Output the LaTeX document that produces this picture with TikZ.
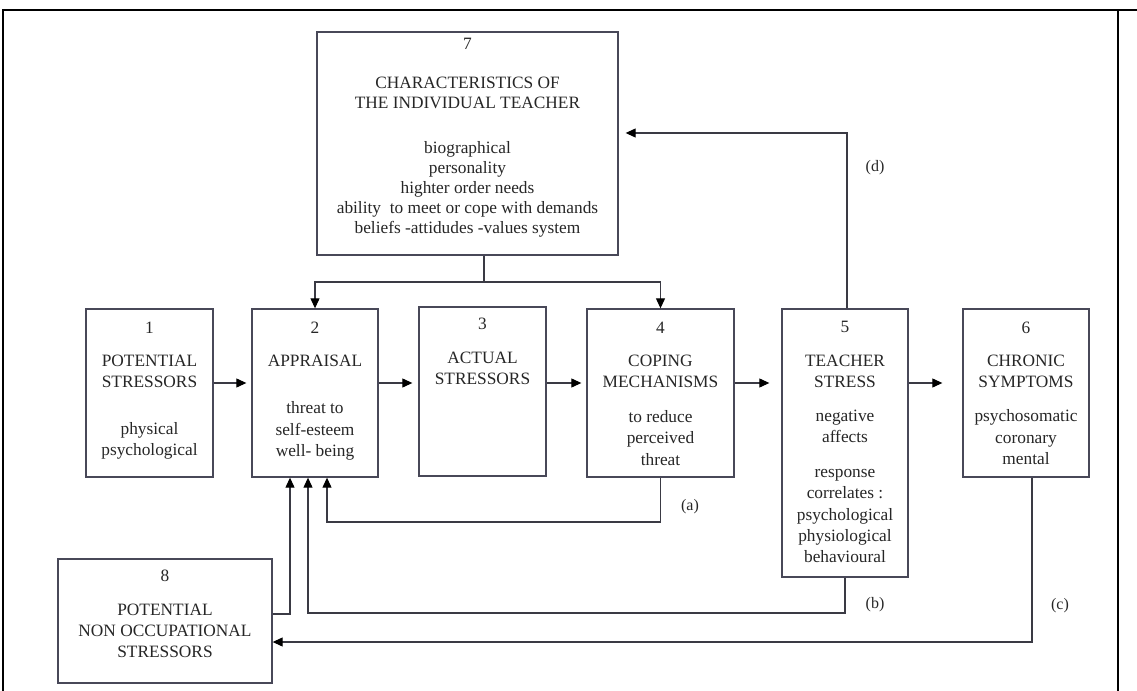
\documentclass[tikz,border=0pt]{standalone}
\usepackage{fontspec}
\setmainfont{Liberation Serif}
\usetikzlibrary{arrows.meta}
\definecolor{boxc}{RGB}{72,72,88}
\definecolor{linec}{RGB}{58,58,68}
\definecolor{txtc}{RGB}{38,38,38}
\begin{document}
\begin{tikzpicture}[x=0.75pt,y=-0.75pt,
  box/.style={draw=boxc, line width=1pt, inner sep=0pt},
  boxtext/.style={anchor=north, align=center, inner sep=0pt, text=txtc,
    font=\fontsize{13}{16}\selectfont},
  conn/.style={draw=linec, line width=0.8pt},
  arr/.style={conn, -{Triangle[length=7.5pt,width=6.75pt,color=black,fill=black]}},
  tag/.style={text=txtc, font=\fontsize{12}{14}\selectfont, inner sep=0pt},
  frame/.style={line width=1.5pt, black}]
\useasboundingbox (0,0) rectangle (1137,691);

% outer frame
\draw[frame] (3,691) -- (3,10) -- (1137,10);
\draw[frame] (1118,10) -- (1118,691);

% boxes
\node[box, minimum width=225.75pt, minimum height=167.25pt] (b7) at (467.5,143.5) {};
\node[box, minimum width=95.25pt, minimum height=126pt] (b1) at (149.5,393) {};
\node[box, minimum width=94.5pt, minimum height=126pt] (b2) at (315,393) {};
\node[box, minimum width=95.25pt, minimum height=126.75pt] (b3) at (482.5,391.5) {};
\node[box, minimum width=110.25pt, minimum height=126pt] (b4) at (660.5,393) {};
\node[box, minimum width=94.5pt, minimum height=201pt] (b5) at (845,443) {};
\node[box, minimum width=94.5pt, minimum height=126pt] (b6) at (1026,393) {};
\node[box, minimum width=160.5pt, minimum height=93pt] (b8) at (165,621) {};

% box contents
\node[boxtext, font=\fontsize{13}{15}\selectfont] (t7) at ([yshift=-5pt]b7.north)
  {7\\[14pt]CHARACTERISTICS OF\\THE INDIVIDUAL TEACHER\\[19pt]biographical\\personality\\highter order needs\\ability\ \ to meet or cope with demands\\beliefs -attidudes -values system};
\node[boxtext] (t1) at ([yshift=-9.75pt]b1.north)
  {1\\[9pt]POTENTIAL\\STRESSORS\\[19pt]physical\\psychological};
\node[boxtext] (t2) at ([yshift=-9.75pt]b2.north)
  {2\\[9pt]APPRAISAL\\[19.5pt]threat to\\self-esteem\\well- being};
\node[boxtext] (t3) at ([yshift=-8.5pt]b3.north)
  {3\\[9.5pt]ACTUAL\\STRESSORS};
\node[boxtext] (t4) at ([yshift=-9.75pt]b4.north)
  {4\\[9pt]COPING\\MECHANISMS\\[10pt]to reduce\\perceived\\threat};
\node[boxtext] (t5) at ([yshift=-9.75pt]b5.north)
  {5\\[9pt]TEACHER\\STRESS\\[9.5pt]negative\\affects\\[10pt]response\\correlates :\\psychological\\physiological\\behavioural};
\node[boxtext] (t6) at ([yshift=-9.75pt]b6.north)
  {6\\[9pt]CHRONIC\\SYMPTOMS\\[9.5pt]psychosomatic\\coronary\\mental};
\node[boxtext] (t8) at ([yshift=-8.25pt]b8.north)
  {8\\[9.5pt]POTENTIAL\\NON OCCUPATIONAL\\STRESSORS};

% main chain
\coordinate (row) at (0,383);
\draw[arr, shorten >=3.75pt] (b1.east |- row) -- (b2.west |- row);
\draw[arr, shorten >=4.5pt] (b2.east |- row) -- (b3.west |- row);
\draw[arr, shorten >=3.75pt] (b3.east |- row) -- (b4.west |- row);
\draw[arr, shorten >=9pt] (b4.east |- row) -- (b5.west |- row);
\draw[arr, shorten >=15pt] (b5.east |- row) -- (b6.west |- row);

% individual characteristics feed appraisal and coping
\coordinate (j7) at (484,282);
\draw[conn] (j7 |- b7.south) -- (j7);
\draw[arr] (j7) -| (b2.north);
\draw[arr] (j7) -| (b4.north);

% feedback loops
\coordinate (dk) at (847,133);
\draw[arr, shorten >=5.25pt] (dk |- b5.north) -- (dk) -- (b7.east |- dk);
\coordinate (ak) at (327,522);
\draw[arr] (b4.south) |- (ak) -- (ak |- b2.south);
\coordinate (bk) at (308,613);
\draw[arr] (b5.south) |- (bk) -- (bk |- b2.south);
\coordinate (ek) at (290,614);
\draw[arr] (b8.east |- ek) -- (ek) -- (ek |- b2.south);
\coordinate (ck) at (1032,642);
\draw[arr] (ck |- b6.south) -- (ck) -- (b8.east |- ck);

% loop labels
\node[tag] (la) at (690,507) {(a)};
\node[tag] (lb) at (875,605) {(b)};
\node[tag] (lc) at (1060,606) {(c)};
\node[tag] (ld) at (875,168) {(d)};
\end{tikzpicture}
\end{document}
